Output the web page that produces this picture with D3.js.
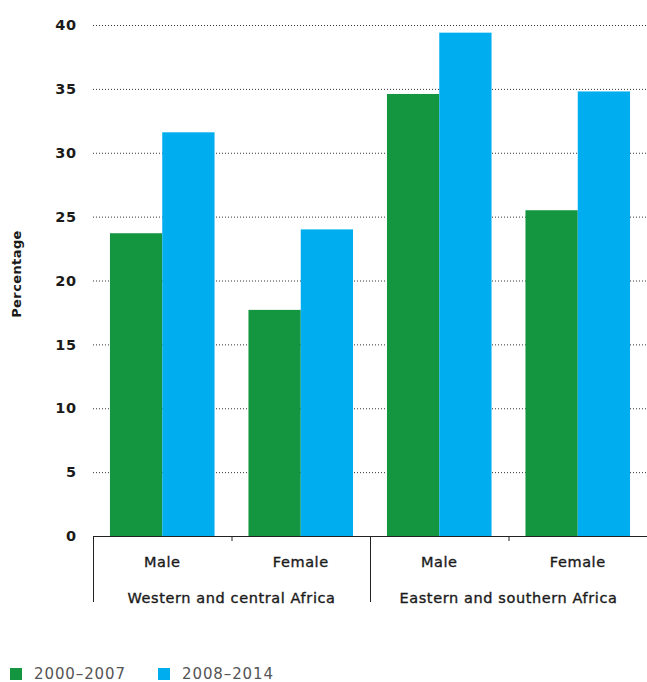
<!DOCTYPE html>
<html><head><meta charset="utf-8">
<script src="https://cdn.jsdelivr.net/npm/d3@7"></script>
<style>body{margin:0;background:#fff}svg{display:block;font-family:"DejaVu Sans",sans-serif}</style>
</head><body>
<svg id="c" width="647" height="682"></svg>
<script>
const regions = ["Western and central Africa", "Eastern and southern Africa"];
const sexes = ["Male", "Female"];
const series = ["2000–2007", "2008–2014"];
const values2000_2007 = [23.7, 17.7, 34.6, 25.5];
const values2008_2014 = [31.6, 24.0, 39.4, 34.8];
const yTicks = [0, 5, 10, 15, 20, 25, 30, 35, 40];
const colors = ["#13963f", "#00aeef"];

(function () {
const svg = d3.select("#c");
const mLeft = 93, mRight = 647, mTop = 25, mBottom = 536;
const cats = [];
regions.forEach((r, ri) => sexes.forEach(s => cats.push({region: ri, sex: s, key: r + "|" + s})));
const data = cats.map((c, i) => ({...c, vals: [values2000_2007[i], values2008_2014[i]]}));

const x = d3.scaleBand().domain(cats.map(c => c.key)).range([mLeft, mRight]).paddingInner(0.245).paddingOuter(0.1225);
const xs = d3.scaleBand().domain(series).range([0, x.bandwidth()]);
const y = d3.scaleLinear().domain([0, 40]).range([mBottom, mTop]);

svg.append("g").selectAll("line").data(yTicks.filter(t => t > 0)).join("line")
  .attr("x1", mLeft).attr("x2", mRight)
  .attr("y1", d => y(d) + 0.5).attr("y2", d => y(d) + 0.5)
  .attr("stroke", "#333").attr("stroke-width", 1).attr("stroke-dasharray", "1,2");

svg.append("g").selectAll("text").data(yTicks).join("text")
  .attr("x", 77).attr("y", d => y(d)).attr("dy", "0.36em")
  .attr("text-anchor", "end").attr("font-size", 14.5).attr("font-weight", 700).attr("fill", "#1a1a1a")
  .attr("letter-spacing", 0.8)
  .text(d => d);

const g = svg.append("g").selectAll("g").data(data).join("g")
  .attr("transform", d => `translate(${x(d.key)},0)`);
g.selectAll("rect").data(d => d.vals.map((v, i) => ({v, s: series[i], i}))).join("rect")
  .attr("x", d => xs(d.s)).attr("width", xs.bandwidth())
  .attr("y", d => y(d.v)).attr("height", d => y(0) - y(d.v))
  .attr("fill", d => colors[d.i]);

svg.append("line").attr("x1", mLeft).attr("x2", mRight).attr("y1", mBottom + 0.5).attr("y2", mBottom + 0.5)
  .attr("stroke", "#222").attr("stroke-width", 1.2);

const step = x.step();
[0, 1].forEach(ri => {
  const gx = mLeft + ri * 2 * step;
  svg.append("line").attr("x1", gx + 0.5).attr("x2", gx + 0.5).attr("y1", mBottom).attr("y2", 602)
    .attr("stroke", "#222").attr("stroke-width", 1);
  const tx = mLeft + (ri * 2 + 1) * step;
  svg.append("line").attr("x1", tx + 0.5).attr("x2", tx + 0.5).attr("y1", mBottom).attr("y2", mBottom + 5)
    .attr("stroke", "#222").attr("stroke-width", 1);
  svg.append("text").attr("x", mLeft + (ri * 2 + 1) * step).attr("y", 603)
    .attr("text-anchor", "middle").attr("font-size", 14.5).attr("fill", "#1a1a1a")
    .attr("stroke", "#1a1a1a").attr("stroke-width", 0.35).attr("letter-spacing", 0.6)
    .text(regions[ri]);
});
svg.append("g").selectAll("text").data(data).join("text")
  .attr("x", d => x(d.key) + x.bandwidth() / 2).attr("y", 567)
  .attr("text-anchor", "middle").attr("font-size", 14.5).attr("fill", "#1a1a1a")
  .attr("stroke", "#1a1a1a").attr("stroke-width", 0.35).attr("letter-spacing", 0.6)
  .text(d => d.sex);

svg.append("text").attr("transform", "translate(21,274) rotate(-90)")
  .attr("text-anchor", "middle").attr("font-size", 13).attr("font-weight", 700).attr("fill", "#1a1a1a")
  .attr("letter-spacing", 0.4)
  .text("Percentage");

const lx = [10, 158];
series.forEach((s, i) => {
  svg.append("rect").attr("x", lx[i]).attr("y", 668).attr("width", 12).attr("height", 12).attr("fill", colors[i]);
  svg.append("text").attr("x", lx[i] + 24).attr("y", 678.5).attr("font-size", 15).attr("fill", "#555")
    .attr("letter-spacing", 0.9).text(s);
});
})();
</script>
</body></html>
